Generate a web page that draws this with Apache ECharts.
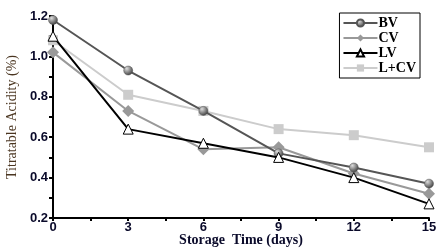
<!DOCTYPE html>
<html>
<head>
<meta charset="utf-8">
<script src="https://cdn.jsdelivr.net/npm/echarts@6/dist/echarts.min.js"></script>
<style>html,body{margin:0;padding:0;background:#fff}#main{width:444px;height:251px}</style>
</head>
<body>
<div id="main"></div>
<script>
var myChart = echarts.init(document.getElementById('main'));

// storage days
var days = [0, 3, 6, 9, 12, 15];
// titratable acidity (%)
var bv = [1.18, 0.93, 0.73, 0.52, 0.45, 0.37];
var cv = [1.02, 0.73, 0.54, 0.55, 0.42, 0.32];
var lv = [1.10, 0.64, 0.57, 0.50, 0.40, 0.27];
var lcv = [1.08, 0.81, 0.73, 0.64, 0.61, 0.55];

function pairs(vals) {
    return days.map(function (d, i) { return [d, vals[i]]; });
}

var labelFont = { fontFamily: 'Liberation Sans', fontWeight: 'bold', fontSize: 13, color: '#0a0a2a' };

option = {
    animation: false,
    grid: { left: 53, right: 15, top: 16, bottom: 33, outerBoundsMode: 'none', containLabel: false },
    legend: {
        right: 24, top: 13,
        orient: 'vertical',
        itemGap: 1,
        itemWidth: 34, itemHeight: 9,
        padding: [3, 4, 3, 3],
        borderColor: '#000', borderWidth: 1,
        textStyle: { fontFamily: 'Liberation Serif', fontWeight: 'bold', fontSize: 14, color: '#000', padding: [0, 0, 0, -4] },
        data: ['BV', 'CV', 'LV', 'L+CV']
    },
    xAxis: {
        type: 'value', min: 0, max: 15, interval: 3,
        name: 'Storage  Time (days)', nameLocation: 'middle', nameGap: 15, nameMoveOverlap: false,
        nameTextStyle: { fontFamily: 'Liberation Serif', fontWeight: 'bold', fontSize: 14, color: '#0a0a2a', lineHeight: 14 },
        axisLine: { lineStyle: { color: '#000', width: 2 } },
        axisTick: { length: 3, lineStyle: { color: '#000', width: 2 } },
        minorTick: { show: true, splitNumber: 2, length: 3, lineStyle: { color: '#000', width: 2 } },
        axisLabel: Object.assign({ margin: 3 }, labelFont),
        splitLine: { show: false }
    },
    yAxis: {
        type: 'value', min: 0.2, max: 1.2, interval: 0.2,
        name: 'Titratable Acidity (%)', nameLocation: 'middle', nameGap: 34, nameMoveOverlap: false,
        nameTextStyle: { fontFamily: 'Liberation Serif', fontSize: 14, color: '#4a3520' },
        axisLine: { show: true, lineStyle: { color: '#000', width: 2 } },
        axisTick: { show: true, length: 4, lineStyle: { color: '#000', width: 2 } },
        minorTick: { show: true, splitNumber: 2, length: 4, lineStyle: { color: '#000', width: 2 } },
        axisLabel: Object.assign({ margin: 5, formatter: function (v) { return v.toFixed(1); } }, labelFont),
        splitLine: { show: false }
    },
    series: [
        {
            name: 'BV', type: 'line', data: pairs(bv), z: 4,
            symbol: 'circle', symbolSize: 9,
            lineStyle: { color: '#555', width: 2 },
            itemStyle: {
                color: new echarts.graphic.RadialGradient(0.35, 0.3, 0.7, [
                    { offset: 0, color: '#ddd' }, { offset: 1, color: '#444' }
                ]),
                borderColor: '#555', borderWidth: 0.5
            }
        },
        {
            name: 'CV', type: 'line', data: pairs(cv), z: 3,
            symbol: 'diamond', symbolSize: 12,
            lineStyle: { color: '#999', width: 2 },
            itemStyle: { color: '#999' }
        },
        {
            name: 'LV', type: 'line', data: pairs(lv), z: 5,
            symbol: 'triangle', symbolSize: 10,
            lineStyle: { color: '#000', width: 2 },
            itemStyle: { color: '#fff', borderColor: '#000', borderWidth: 1 }
        },
        {
            name: 'L+CV', type: 'line', data: pairs(lcv), z: 2,
            symbol: 'rect', symbolSize: 10,
            lineStyle: { color: '#ccc', width: 2 },
            itemStyle: { color: '#ccc' }
        }
    ]
};

if (option && typeof option === "object") {
    myChart.setOption(option, true);
}
</script>
</body>
</html>
